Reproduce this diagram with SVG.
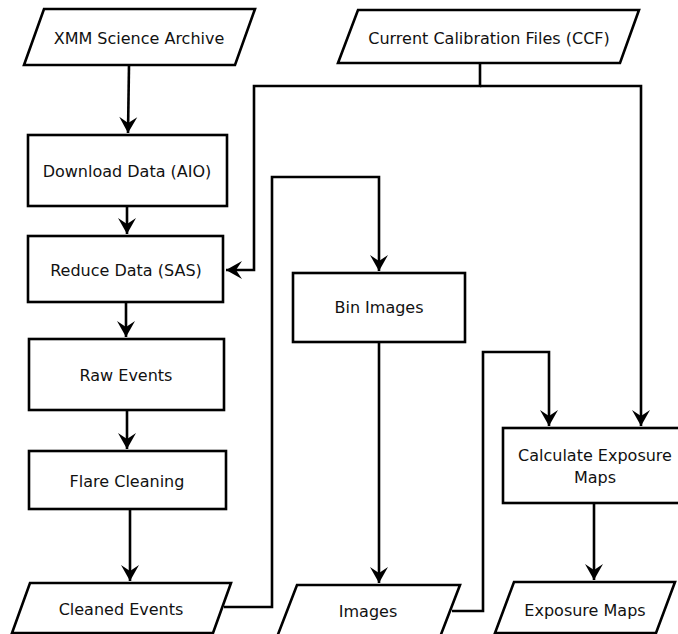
<svg xmlns="http://www.w3.org/2000/svg" width="678" height="634" viewBox="0 0 678 634">
<defs>
<marker id="arr" markerUnits="userSpaceOnUse" markerWidth="22" markerHeight="22" viewBox="-18 -11 20 22" refX="0" refY="0" orient="auto">
<path d="M0,0 L-16,-9 L-10,0 L-16,9 Z" fill="#000"/>
</marker>
</defs>
<style>
.n{fill:#fff;stroke:#000;stroke-width:2.6}
.t{font-family:"DejaVu Sans",sans-serif;font-size:16px;fill:#111;text-anchor:middle}
.c{fill:none;stroke:#000;stroke-width:2.6}
.a{marker-end:url(#arr)}
</style>
<rect width="678" height="634" fill="#fff"/>
<g id="connectors">
<path class="c a" d="M129,65 L128,133"/>
<path class="c a" d="M127,206 V234"/>
<path class="c a" d="M480,63 V86 H254 V270 H226"/>
<path class="c a" d="M480,86 H641 V426"/>
<path class="c a" d="M126,302 V337"/>
<path class="c a" d="M127,410 V449"/>
<path class="c a" d="M130,509 V581"/>
<path class="c a" d="M224,607 H272 V177 H379 V271"/>
<path class="c a" d="M379,342 V583"/>
<path class="c a" d="M452,611 H483 V352 H549 V426"/>
<path class="c a" d="M594,503 V580"/>
</g>
<g id="xmm">
<polygon class="n" points="44,9 255,9 235,65 24,65"/>
<text class="t" x="139" y="44">XMM Science Archive</text>
</g>
<g id="ccf">
<polygon class="n" points="358,10 639,10 620,63 338,63"/>
<text class="t" x="489" y="44">Current Calibration Files (CCF)</text>
</g>
<g id="download">
<rect class="n" x="28" y="135" width="199" height="71"/>
<text class="t" x="127" y="177">Download Data (AIO)</text>
</g>
<g id="reduce">
<rect class="n" x="28" y="236" width="195" height="66"/>
<text class="t" x="126" y="276">Reduce Data (SAS)</text>
</g>
<g id="raw">
<rect class="n" x="29" y="339" width="195" height="71"/>
<text class="t" x="126" y="381">Raw Events</text>
</g>
<g id="flare">
<rect class="n" x="29" y="451" width="197" height="58"/>
<text class="t" x="127" y="487">Flare Cleaning</text>
</g>
<g id="cleaned">
<polygon class="n" points="30,583 231,583 213,633 12,633"/>
<text class="t" x="121" y="615">Cleaned Events</text>
</g>
<g id="bin">
<rect class="n" x="293" y="273" width="172" height="69"/>
<text class="t" x="379" y="313">Bin Images</text>
</g>
<g id="images">
<polygon class="n" points="297,585 460,585 440,637 277,637"/>
<text class="t" x="368" y="617">Images</text>
</g>
<g id="calc">
<rect class="n" x="503" y="428" width="190" height="75"/>
<text class="t" x="595" y="461">Calculate Exposure</text>
<text class="t" x="595" y="483">Maps</text>
</g>
<g id="expmaps">
<polygon class="n" points="514,582 675,582 656,633 495,633"/>
<text class="t" x="585" y="616">Exposure Maps</text>
</g>
</svg>
